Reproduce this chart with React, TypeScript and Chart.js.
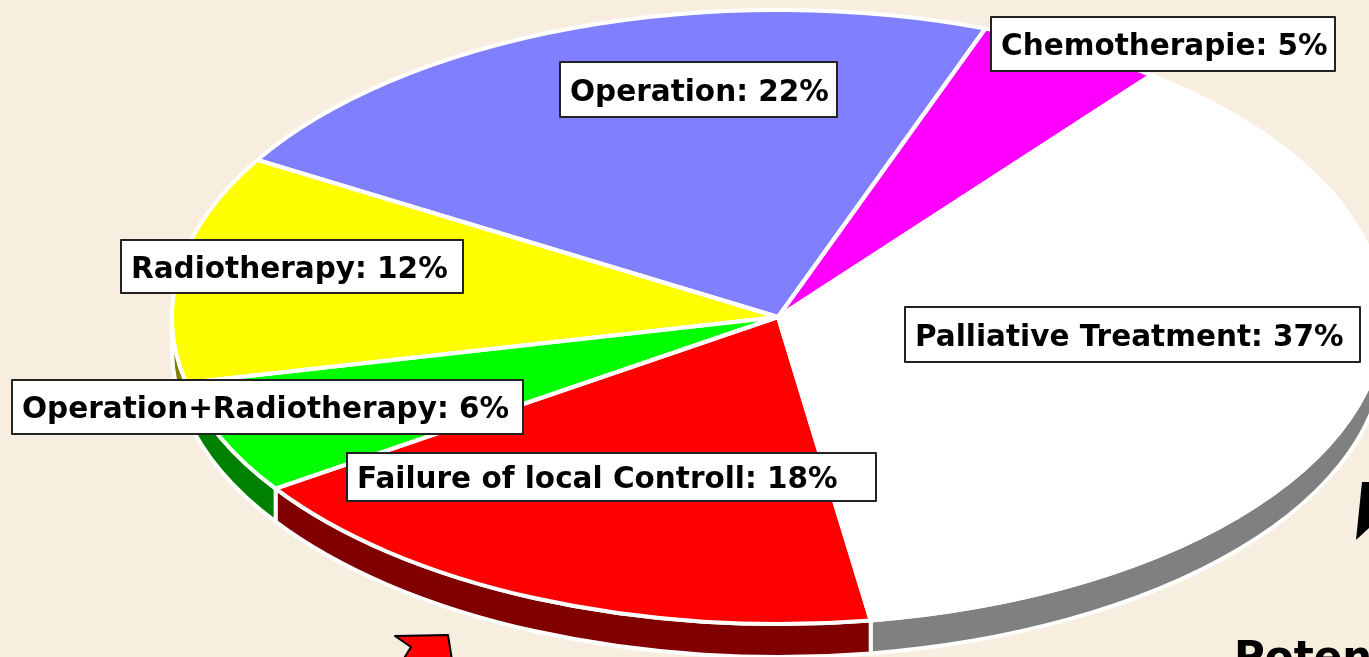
import React, { useEffect, useRef } from "react";
import { Chart, registerables } from "chart.js";

Chart.register(...registerables);

// ---- data ----
const categories = [
  "Chemotherapie",
  "Palliative Treatment",
  "Failure of local Controll",
  "Operation+Radiotherapy",
  "Radiotherapy",
  "Operation",
];
const shares = [5, 37, 18, 6, 12, 22];
const topColors = ["#FF00FF", "#FFFFFF", "#FF0000", "#00FF00", "#FFFF00", "#8080FF"];
const sideColors = ["#800080", "#808080", "#800000", "#008000", "#808000", "#404080"];

// ---- layout (annotation boxes: left, top, width, height) ----
const labelBoxes = [
  [991, 17, 344, 54],
  [905, 307, 455, 55],
  [347, 453, 529, 48],
  [12, 380, 511, 54],
  [121, 240, 342, 53],
  [560, 62, 277, 55],
];
const W = 1369;
const H = 657;
const BG = "#F8EEDF";
const ELL = { cx: 778, cy: 317, rx: 606, ry: 307, depth: 33 };
const LABEL_FONT = 'bold 29.5px "DejaVu Sans", Verdana, sans-serif';
const EDGE = 4;

const pie3d = {
  id: "pie3d",
  beforeDraw(chart: any) {
    const ctx = chart.ctx;
    ctx.save();
    ctx.fillStyle = BG;
    ctx.fillRect(0, 0, chart.width, chart.height);
    ctx.restore();
  },
  beforeDatasetsDraw(chart: any) {
    const ctx = chart.ctx;
    const meta = chart.getDatasetMeta(0);
    const { cx, cy, rx, ry, depth } = ELL;
    // side walls (front half only)
    meta.data.forEach((arc: any, i: number) => {
      const a1 = arc.startAngle;
      const a2 = arc.endAngle;
      for (let k = -2; k <= 2; k++) {
        const s = Math.max(a1 + 2 * Math.PI * k, 0);
        const e = Math.min(a2 + 2 * Math.PI * k, Math.PI);
        if (e <= s) continue;
        ctx.beginPath();
        ctx.ellipse(cx, cy, rx, ry, 0, s, e, false);
        ctx.lineTo(cx + rx * Math.cos(e), cy + depth + ry * Math.sin(e));
        ctx.ellipse(cx, cy + depth, rx, ry, 0, e, s, true);
        ctx.closePath();
        ctx.fillStyle = sideColors[i];
        ctx.fill();
        ctx.strokeStyle = "#FFFFFF";
        ctx.lineWidth = EDGE;
        ctx.lineJoin = "round";
        ctx.stroke();
      }
    });
    const a0 = meta.data[0];
    const r0 = a0.outerRadius;
    ctx.save();
    ctx.translate(cx, cy);
    ctx.scale(rx / r0, ry / r0);
    ctx.translate(-a0.x, -a0.y);
  },
  afterDatasetsDraw(chart: any) {
    const ctx = chart.ctx;
    ctx.restore();
    const meta = chart.getDatasetMeta(0);
    const { cx, cy, rx, ry } = ELL;
    // white slice borders
    meta.data.forEach((arc: any) => {
      ctx.beginPath();
      ctx.moveTo(cx, cy);
      ctx.ellipse(cx, cy, rx, ry, 0, arc.startAngle, arc.endAngle, false);
      ctx.closePath();
      ctx.strokeStyle = "#FFFFFF";
      ctx.lineWidth = EDGE;
      ctx.lineJoin = "round";
      ctx.stroke();
    });
    // label boxes
    ctx.save();
    ctx.font = LABEL_FONT;
    ctx.textAlign = "left";
    ctx.textBaseline = "alphabetic";
    categories.forEach((name, i) => {
      const [x, y, w, h] = labelBoxes[i];
      ctx.fillStyle = "#FFFFFF";
      ctx.fillRect(x, y, w, h);
      ctx.strokeStyle = "#222222";
      ctx.lineWidth = 2;
      ctx.strokeRect(x, y, w, h);
      ctx.fillStyle = "#000000";
      ctx.fillText(`${name}: ${shares[i]}%`, x + 10, y + h / 2 + 11);
    });
    ctx.restore();
    // decorations outside the pie
    ctx.save();
    ctx.beginPath();
    ctx.moveTo(395, 636);
    ctx.lineTo(448, 635);
    ctx.lineTo(452, 660);
    ctx.lineTo(403, 660);
    ctx.lineTo(411, 647);
    ctx.closePath();
    ctx.fillStyle = "#FF0000";
    ctx.fill();
    ctx.strokeStyle = "#000000";
    ctx.lineWidth = 2;
    ctx.stroke();
    ctx.beginPath();
    ctx.moveTo(1362, 482);
    ctx.lineTo(1370, 482);
    ctx.lineTo(1370, 527);
    ctx.lineTo(1356, 540);
    ctx.closePath();
    ctx.fillStyle = "#000000";
    ctx.fill();
    ctx.font = 'bold 42px "DejaVu Sans", Verdana, sans-serif';
    ctx.fillStyle = "#000000";
    ctx.fillText("Potenzial", 1234, 671);
    ctx.restore();
  },
};

export default function App() {
  const ref = useRef<HTMLCanvasElement | null>(null);
  useEffect(() => {
    if (!ref.current) return;
    const chart = new Chart(ref.current, {
      type: "pie",
      data: {
        labels: categories,
        datasets: [
          {
            data: shares,
            backgroundColor: topColors,
            borderWidth: 0,
            clip: false,
          } as any,
        ],
      },
      options: {
        responsive: false,
        animation: false,
        devicePixelRatio: 1,
        rotation: 20,
        layout: { padding: { top: 20, bottom: 20 } },
        plugins: {
          legend: { display: false },
          tooltip: { enabled: false },
        },
        events: [],
      },
      plugins: [pie3d],
    });
    return () => chart.destroy();
  }, []);
  return (
    <div
      style={{
        position: "fixed",
        left: 0,
        top: 0,
        width: W,
        height: H,
        overflow: "hidden",
        background: BG,
      }}
    >
      <canvas ref={ref} width={W} height={H} style={{ display: "block", width: W, height: H }} />
    </div>
  );
}
